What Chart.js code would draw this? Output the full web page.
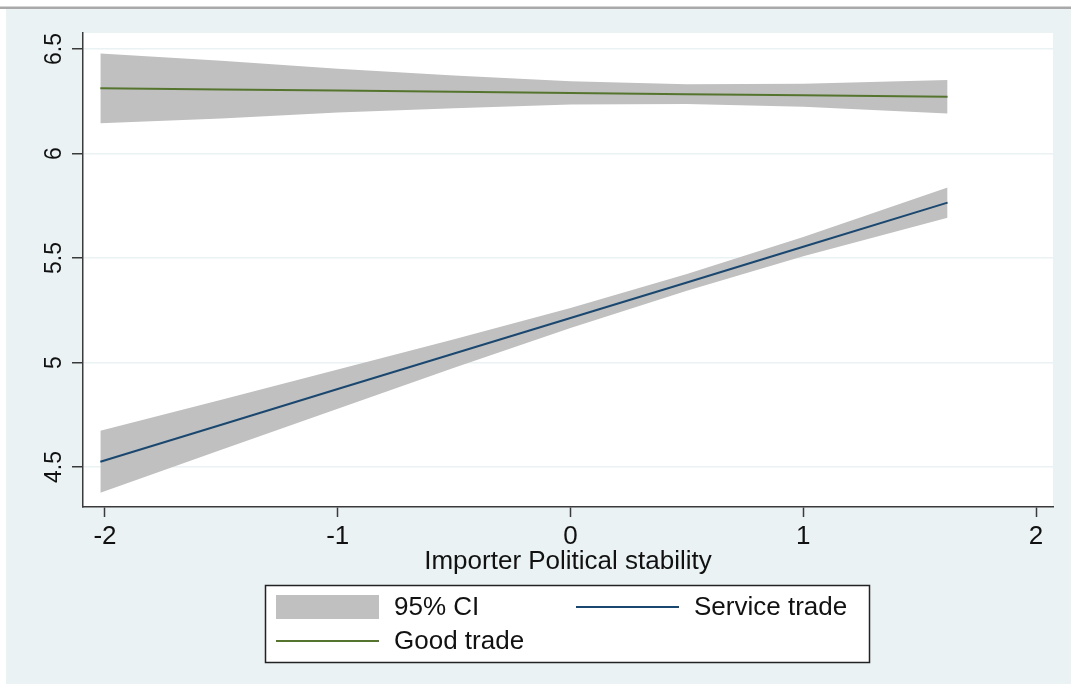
<!DOCTYPE html>
<html>
<head>
<meta charset="utf-8">
<script src="https://cdn.jsdelivr.net/npm/chart.js@4/dist/chart.umd.min.js"></script>
<style>
  html, body { margin: 0; padding: 0; background: #ffffff; }
  #wrap { width: 1071px; height: 684px; position: relative; }
</style>
</head>
<body>
<div id="wrap"><canvas id="c"></canvas></div>
<script>
// Predicted values with 95% confidence limits along importer political stability
const xValues      = [-2.02, -1.5, -1, -0.5, 0, 0.5, 1, 1.62];
const serviceFit   = [4.525, 4.702, 4.873, 5.043, 5.213, 5.383, 5.554, 5.765];
const serviceUpper = [4.673, 4.822, 4.967, 5.111, 5.261, 5.423, 5.600, 5.837];
const serviceLower = [4.377, 4.582, 4.779, 4.975, 5.165, 5.343, 5.508, 5.693];
const goodFit      = [6.312, 6.306, 6.301, 6.295, 6.290, 6.284, 6.279, 6.272];
const goodUpper    = [6.479, 6.444, 6.406, 6.373, 6.346, 6.331, 6.334, 6.352];
const goodLower    = [6.145, 6.168, 6.196, 6.217, 6.234, 6.237, 6.224, 6.192];

const xTicks = [-2, -1, 0, 1, 2];
const yTicks = [4.5, 5, 5.5, 6, 6.5];
const seriesNames = ['Service trade', 'Good trade'];
const ciLabel = '95% CI';
const xTitle = 'Importer Political stability';

const FONT = '"Liberation Sans", Arial, sans-serif';
const COL_SERVICE = '#1a476f';
const COL_GOOD = '#55752f';
const COL_CI = '#c0c0c0';
const COL_BG = '#eaf2f3';
const COL_AXIS = '#3a3a3a';

const pts = ys => xValues.map((x, i) => ({ x, y: ys[i] }));

const bandStyle = { backgroundColor: COL_CI, borderWidth: 0, pointRadius: 0, order: 2 };
const lineStyle = { fill: false, pointRadius: 0, borderWidth: 2, order: 0 };

// Outer graph region, top rule and white plot region
const backdrop = {
  id: 'backdrop',
  beforeDraw(chart) {
    const { ctx, width, height, chartArea: a } = chart;
    ctx.save();
    ctx.fillStyle = '#ffffff';
    ctx.fillRect(0, 0, width, height);
    ctx.fillStyle = COL_BG;
    ctx.fillRect(6, 9, width - 6, height - 9);
    ctx.fillStyle = '#a9a9a9';
    ctx.fillRect(0, 6.5, width, 2.5);
    ctx.fillStyle = '#ffffff';
    ctx.fillRect(a.left, a.top, a.right - a.left, a.bottom - a.top);
    ctx.restore();
  }
};

// Two-column boxed legend below the axis title
const boxLegend = {
  id: 'boxLegend',
  afterDraw(chart) {
    const ctx = chart.ctx;
    const box = { x: 265, y: 585, w: 605, h: 78 };
    const cols = [276, 576], rows = [607, 641];
    const keyW = 103, gap = 15;
    const items = [
      { kind: 'band', label: ciLabel, color: COL_CI, col: 0, row: 0 },
      { kind: 'line', label: seriesNames[0], color: COL_SERVICE, col: 1, row: 0 },
      { kind: 'line', label: seriesNames[1], color: COL_GOOD, col: 0, row: 1 }
    ];
    ctx.save();
    ctx.fillStyle = '#ffffff';
    ctx.fillRect(box.x, box.y, box.w, box.h);
    ctx.strokeStyle = '#222222';
    ctx.lineWidth = 1.5;
    ctx.strokeRect(box.x + 0.5, box.y + 0.5, box.w - 1, box.h - 1);
    ctx.font = '26px ' + FONT;
    ctx.textBaseline = 'middle';
    ctx.textAlign = 'left';
    items.forEach(it => {
      const x = cols[it.col], y = rows[it.row];
      if (it.kind === 'band') {
        ctx.fillStyle = it.color;
        ctx.fillRect(x, y - 12, keyW, 24);
      } else {
        ctx.strokeStyle = it.color;
        ctx.lineWidth = 2;
        ctx.beginPath();
        ctx.moveTo(x, y);
        ctx.lineTo(x + keyW, y);
        ctx.stroke();
      }
      ctx.fillStyle = '#111111';
      ctx.fillText(it.label, x + keyW + gap, y + 1);
    });
    ctx.restore();
  }
};

new Chart(document.getElementById('c'), {
  type: 'line',
  data: {
    datasets: [
      { label: ciLabel, data: pts(goodUpper), fill: '+1', ...bandStyle },
      { label: ciLabel, data: pts(goodLower), fill: false, ...bandStyle },
      { label: ciLabel, data: pts(serviceUpper), fill: '+1', ...bandStyle },
      { label: ciLabel, data: pts(serviceLower), fill: false, ...bandStyle },
      { label: seriesNames[0], data: pts(serviceFit), borderColor: COL_SERVICE, ...lineStyle },
      { label: seriesNames[1], data: pts(goodFit), borderColor: COL_GOOD, ...lineStyle }
    ]
  },
  options: {
    responsive: true,
    maintainAspectRatio: false,
    animation: false,
    events: [],
    layout: { padding: { left: 6, top: 33, right: 18, bottom: 107 } },
    elements: { line: { tension: 0 } },
    plugins: { legend: { display: false }, tooltip: { enabled: false } },
    scales: {
      x: {
        type: 'linear',
        min: -2.0945,
        max: 2.073,
        afterBuildTicks: s => { s.ticks = xTicks.map(v => ({ value: v })); },
        afterFit: s => { s.height = 70; },
        grid: { drawOnChartArea: false, drawTicks: true, tickLength: 10, tickColor: COL_AXIS, tickWidth: 1.5 },
        border: { color: COL_AXIS, width: 1.5 },
        ticks: {
          autoSkip: false, maxRotation: 0, padding: 4,
          color: '#111111', font: { family: FONT, size: 26 },
          callback: v => String(v)
        },
        title: {
          display: true, text: xTitle, color: '#111111',
          font: { family: FONT, size: 26 }, padding: { top: 0, bottom: 0 }
        }
      },
      y: {
        type: 'linear',
        min: 4.3086,
        max: 6.5766,
        afterBuildTicks: s => { s.ticks = yTicks.map(v => ({ value: v })); },
        afterFit: s => { s.width = 77; },
        grid: { color: COL_BG, lineWidth: 1.5, drawTicks: true, tickLength: 11, tickColor: COL_AXIS, tickWidth: 1.5 },
        border: { color: COL_AXIS, width: 1.5 },
        ticks: {
          autoSkip: false, minRotation: 90, maxRotation: 90, crossAlign: 'center', padding: 1,
          color: '#111111', font: { family: FONT, size: 23 },
          callback: v => String(v)
        }
      }
    }
  },
  plugins: [backdrop, boxLegend]
});
</script>
</body>
</html>
